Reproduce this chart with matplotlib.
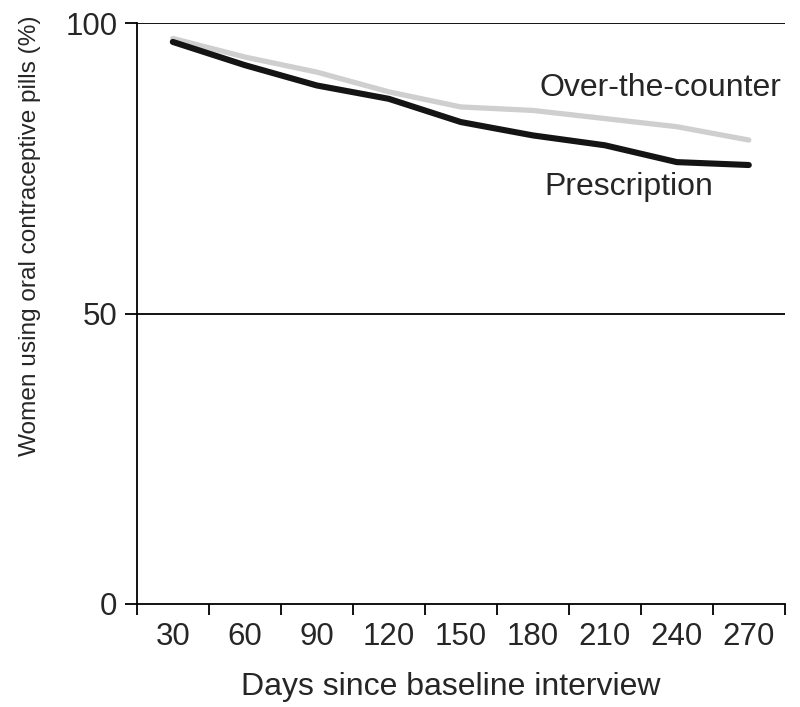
import matplotlib.pyplot as plt
import numpy as np

plt.rcParams['font.family'] = ['Liberation Sans', 'DejaVu Sans']

# data
days = [30, 60, 90, 120, 150, 180, 210, 240, 270]
prescription = [96.8, 92.8, 89.3, 87.0, 83.0, 80.7, 79.0, 76.1, 75.6]
otc = [97.4, 94.2, 91.6, 88.2, 85.6, 85.0, 83.6, 82.2, 79.9]
yticks = [0, 50, 100]

TXT = '#262626'

fig = plt.figure(figsize=(8, 7.07), dpi=100)
ax = fig.add_axes([0.171, 0.1457, 0.81, 0.8213])

x = np.arange(len(days))
ax.plot(x, otc, color='#cfcfcf', lw=3.8, solid_capstyle='round', zorder=3)
ax.plot(x, prescription, color='#141414', lw=4.4, solid_capstyle='round', zorder=4)

# horizontal reference lines
for yv in [50, 100]:
    ax.axhline(yv, color='black', lw=1.3, zorder=1)

ax.set_xlim(-0.5, len(days) - 0.5)
ax.set_ylim(0, 100)
ax.set_yticks(yticks)
ax.set_xticks(x)
ax.set_xticklabels([str(d) for d in days])
ax.set_xticks(np.arange(-0.5, len(days), 1.0), minor=True)
ax.tick_params(axis='x', which='major', length=0, labelsize=22.5, pad=13)
ax.tick_params(axis='x', which='minor', length=8, width=1.3, direction='out')
ax.tick_params(axis='y', length=9, width=1.3, direction='out', labelsize=22.5, pad=5)
for lab in ax.get_xticklabels() + ax.get_yticklabels():
    lab.set_color(TXT)

for s in ['top', 'right']:
    ax.spines[s].set_visible(False)
for s in ['left', 'bottom']:
    ax.spines[s].set_linewidth(1.3)

ax.set_xlabel('Days since baseline interview', fontsize=23, color=TXT, va='center')
ax.xaxis.set_label_coords(0.485, -0.143)
ax.set_ylabel('Women using oral contraceptive pills (%)', fontsize=17.6, color=TXT, va='center')
ax.yaxis.set_label_coords(-0.165, 0.635)

ax.text(5.09, 88.8, 'Over-the-counter', fontsize=23, color=TXT, va='center', ha='left')
ax.text(5.16, 71.8, 'Prescription', fontsize=23, color=TXT, va='center', ha='left')

fig.savefig('out.png', dpi=100)
